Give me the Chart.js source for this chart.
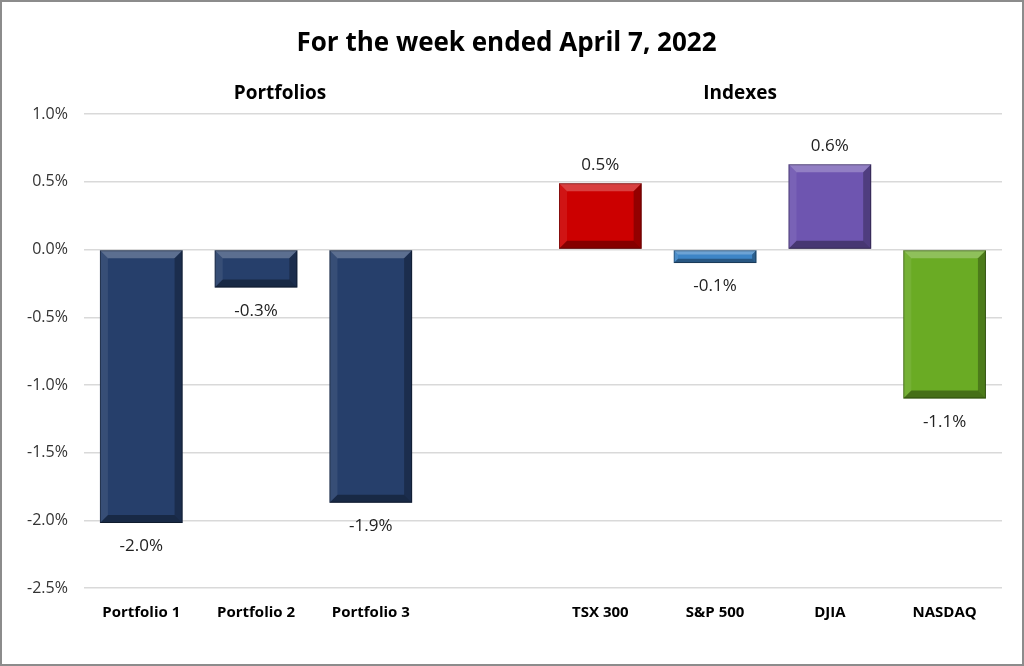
<!DOCTYPE html>
<html>
<head>
<meta charset="utf-8">
<script src="https://cdn.jsdelivr.net/npm/chart.js@4.4.1/dist/chart.umd.min.js"></script>
<style>
  html, body { margin: 0; padding: 0; background: #fff; }
  #wrap { position: relative; width: 1024px; height: 666px; box-sizing: border-box; border: 2px solid #8c8c8c; }
</style>
</head>
<body>
<div id="wrap"><canvas id="myChart" width="1020" height="662"></canvas></div>
<script>
// data (weekly returns, %)
const categories = ['Portfolio 1', 'Portfolio 2', 'Portfolio 3', '', 'TSX 300', 'S&P 500', 'DJIA', 'NASDAQ'];
const returns = [-2.02, -0.28, -1.87, null, 0.49, -0.10, 0.63, -1.10];
const barColors = ['#263f6b', '#263f6b', '#263f6b', '#ffffff', '#cc0000', '#3d85c6', '#6e55b0', '#6aab24'];
const groupLabels = ['Portfolios', 'Indexes'];
const yTicks = [-2.5, -2.0, -1.5, -1.0, -0.5, 0.0, 0.5, 1.0];

const FONT = '"Open Sans", "Liberation Sans", sans-serif';

// bevel look like the excel bars
const bevelPlugin = {
    id: 'bevel',
    afterDatasetsDraw(chart) {
        const ctx = chart.ctx;
        const meta = chart.getDatasetMeta(0);
        meta.data.forEach((bar, i) => {
            if (returns[i] === null) return;
            const p = bar.getProps(['x', 'y', 'base', 'width'], true);
            const l = p.x - p.width / 2, r = p.x + p.width / 2;
            const t = Math.min(p.y, p.base), b = Math.max(p.y, p.base);
            const d = Math.min(8, (b - t) / 3);
            const poly = (pts, fill) => {
                ctx.beginPath();
                ctx.moveTo(pts[0][0], pts[0][1]);
                for (let k = 1; k < pts.length; k++) ctx.lineTo(pts[k][0], pts[k][1]);
                ctx.closePath();
                ctx.fillStyle = fill;
                ctx.fill();
            };
            ctx.save();
            poly([[l, t], [r, t], [r - d, t + d], [l + d, t + d]], 'rgba(255,255,255,0.25)');
            poly([[l, b], [r, b], [r - d, b - d], [l + d, b - d]], 'rgba(0,0,0,0.35)');
            poly([[l, t], [l + d, t + d], [l + d, b - d], [l, b]], 'rgba(255,255,255,0.08)');
            poly([[r, t], [r - d, t + d], [r - d, b - d], [r, b]], 'rgba(0,0,0,0.28)');
            ctx.strokeStyle = 'rgba(0,0,0,0.35)';
            ctx.lineWidth = 1;
            ctx.strokeRect(l + 0.5, t + 0.5, p.width - 1, b - t - 1);
            ctx.restore();
        });
    }
};

// value labels at the outside end of each bar, plus the two group headers
const labelPlugin = {
    id: 'labels',
    afterDraw(chart) {
        const ctx = chart.ctx;
        const meta = chart.getDatasetMeta(0);
        ctx.save();
        ctx.font = '17px ' + FONT;
        ctx.fillStyle = '#222';
        ctx.textAlign = 'center';
        meta.data.forEach((bar, i) => {
            const v = returns[i];
            if (v === null) return;
            const p = bar.getProps(['x', 'y'], true);
            const txt = v.toFixed(1) + '%';
            if (v >= 0) {
                ctx.textBaseline = 'bottom';
                ctx.fillText(txt, p.x, p.y - 10);
            } else {
                ctx.textBaseline = 'top';
                ctx.fillText(txt, p.x, p.y + 15);
            }
        });
        ctx.font = 'bold 19px ' + FONT;
        ctx.fillStyle = '#000';
        ctx.textBaseline = 'middle';
        ctx.fillText(groupLabels[0], 278, 92);
        ctx.fillText(groupLabels[1], 738, 92);
        ctx.restore();
    }
};

const ctx = document.getElementById('myChart').getContext('2d');
const chart = new Chart(ctx, {
    type: 'bar',
    data: {
        labels: categories,
        datasets: [{
            data: returns,
            backgroundColor: barColors,
            borderWidth: 0,
            barPercentage: 0.72,
            categoryPercentage: 1.0
        }]
    },
    options: {
        responsive: false,
        animation: false,
        layout: { padding: { left: 9, right: 20, top: 0, bottom: 34 } },
        plugins: {
            legend: { display: false },
            tooltip: { enabled: false },
            title: {
                display: true,
                text: 'For the week ended April 7, 2022',
                color: '#000',
                font: { family: FONT, size: 26, weight: 'bold' },
                padding: { top: 26, bottom: 55 }
            }
        },
        scales: {
            x: {
                grid: { display: false },
                border: { display: false },
                ticks: {
                    color: '#000',
                    font: { family: FONT, size: 15, weight: 'bold' },
                    padding: 8,
                    maxRotation: 0,
                    autoSkip: false
                }
            },
            y: {
                min: -2.5,
                max: 1.0,
                afterBuildTicks(axis) { axis.ticks = yTicks.map(v => ({ value: v })); },
                grid: { color: '#d9d9d9', lineWidth: 1.5, drawTicks: false },
                border: { display: false },
                ticks: {
                    color: '#333',
                    font: { family: FONT, size: 16 },
                    padding: 16,
                    callback: v => v.toFixed(1) + '%'
                }
            }
        }
    },
    plugins: [bevelPlugin, labelPlugin]
});
</script>
</body>
</html>
